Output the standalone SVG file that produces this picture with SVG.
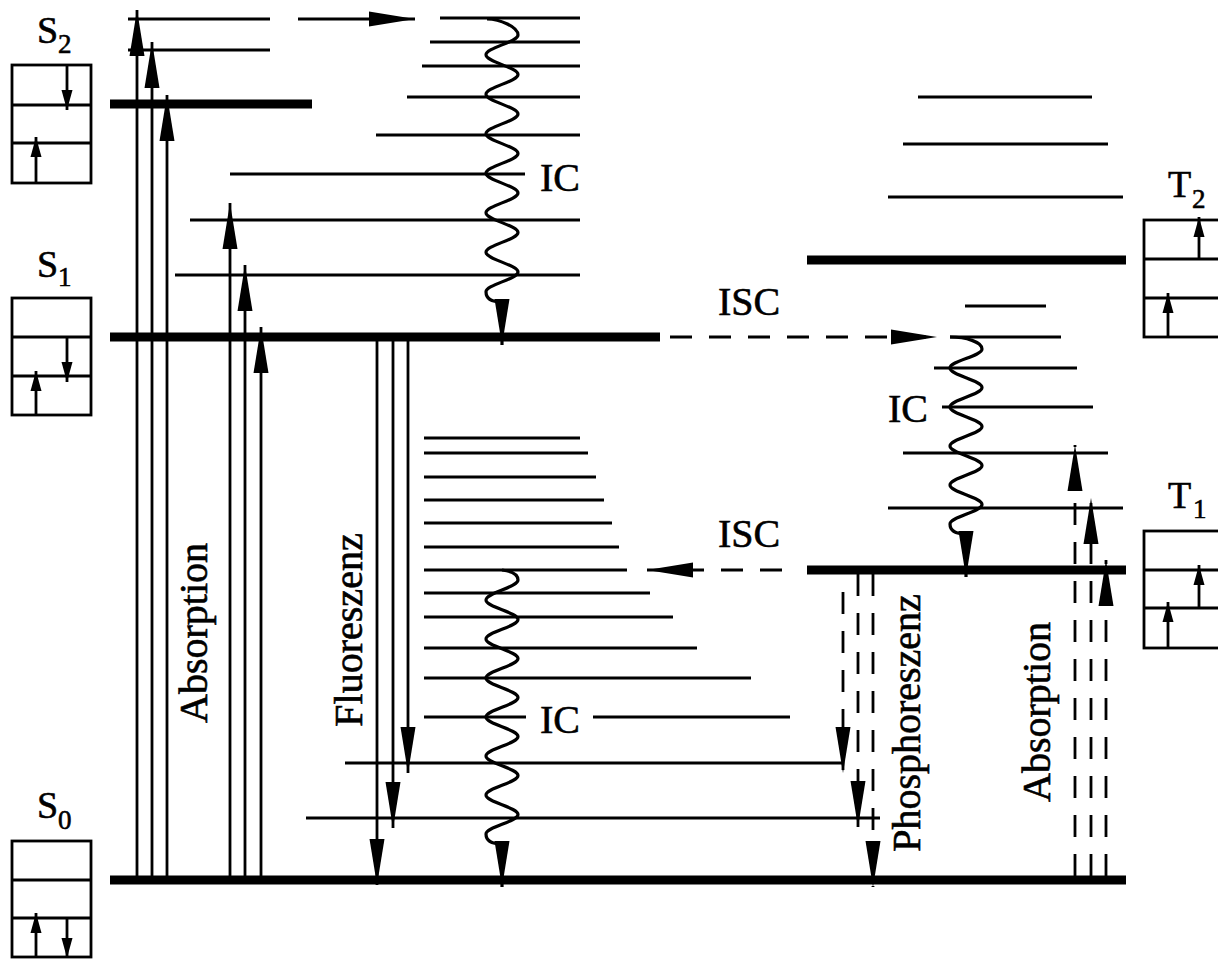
<svg xmlns="http://www.w3.org/2000/svg" width="1218" height="959" viewBox="0 0 1218 959">
<defs>
<marker id="ah" markerUnits="userSpaceOnUse" markerWidth="48" markerHeight="16" refX="46" refY="7.5" orient="auto" overflow="visible"><path d="M0,0 L46,7.5 L0,15 z" fill="#000"/></marker>
<marker id="sah" markerUnits="userSpaceOnUse" markerWidth="22" markerHeight="12" refX="20" refY="5.5" orient="auto" overflow="visible"><path d="M0,0 L20,5.5 L0,11 z" fill="#000"/></marker>
</defs>
<style>
.lv{stroke:#000;stroke-width:2.8;fill:none}
.thick{stroke:#000;stroke-width:9;fill:none}
.ar{stroke:#000;stroke-width:2.8;fill:none;marker-end:url(#ah)}
.dash{stroke-dasharray:22 17}
.wave{stroke:#000;stroke-width:3.2;fill:none;marker-end:url(#ah)}
.box{fill:none;stroke:#000;stroke-width:2.8}
.sar{stroke:#000;stroke-width:2.8;fill:none;marker-end:url(#sah)}
text{font-family:"Liberation Serif","Times New Roman",serif;fill:#000;stroke:#000;stroke-width:0.6}
.lbl{font-size:40px}
.st{font-size:38px}
.sub{font-size:27px}
</style>
<rect width="1218" height="959" fill="#fff"/>

<g id="S2">
<rect class="box" x="12" y="65" width="79" height="118"/>
<line class="lv" x1="12" y1="105" x2="91" y2="105"/>
<line class="lv" x1="12" y1="143" x2="91" y2="143"/>
<line class="sar" x1="67" y1="65" x2="67" y2="110"/>
<line class="sar" x1="36" y1="183" x2="36" y2="137"/>
<text class="st" x="37" y="43">S</text><text class="sub" x="58" y="53">2</text>
<line class="thick" x1="110" y1="104" x2="312" y2="104"/>
<line class="lv" x1="128" y1="19" x2="270" y2="19"/>
<line class="lv" x1="128" y1="50" x2="270" y2="50"/>
<line class="lv" x1="440" y1="18" x2="580" y2="18"/>
<line class="lv" x1="430" y1="42" x2="580" y2="42"/>
<line class="lv" x1="422" y1="66" x2="580" y2="66"/>
<line class="lv" x1="407" y1="97" x2="580" y2="97"/>
<line class="lv" x1="376" y1="135" x2="580" y2="135"/>
<line class="lv" x1="230" y1="174" x2="525" y2="174"/>
</g>

<g id="S1">
<rect class="box" x="12" y="298" width="79" height="117"/>
<line class="lv" x1="12" y1="337" x2="91" y2="337"/>
<line class="lv" x1="12" y1="376" x2="91" y2="376"/>
<line class="sar" x1="67" y1="337" x2="67" y2="382"/>
<line class="sar" x1="36" y1="415" x2="36" y2="371"/>
<text class="st" x="37" y="277">S</text><text class="sub" x="58" y="286">1</text>
<line class="thick" x1="110" y1="337" x2="660" y2="337"/>
<line class="lv" x1="190" y1="220" x2="580" y2="220"/>
<line class="lv" x1="175" y1="275" x2="580" y2="275"/>
</g>

<g id="S0">
<rect class="box" x="12" y="841" width="79" height="116"/>
<line class="lv" x1="12" y1="880" x2="91" y2="880"/>
<line class="lv" x1="12" y1="918" x2="91" y2="918"/>
<line class="sar" x1="36" y1="957" x2="36" y2="913"/>
<line class="sar" x1="67" y1="918" x2="67" y2="958"/>
<text class="st" x="37" y="818">S</text><text class="sub" x="58" y="829">0</text>
<line class="thick" x1="110" y1="880" x2="1126" y2="880"/>
<line class="lv" x1="424" y1="438" x2="580" y2="438"/>
<line class="lv" x1="424" y1="453" x2="588" y2="453"/>
<line class="lv" x1="424" y1="477" x2="596" y2="477"/>
<line class="lv" x1="424" y1="500" x2="604" y2="500"/>
<line class="lv" x1="424" y1="523" x2="612" y2="523"/>
<line class="lv" x1="424" y1="547" x2="619" y2="547"/>
<line class="lv" x1="424" y1="570" x2="627" y2="570"/>
<line class="lv" x1="424" y1="593" x2="650" y2="593"/>
<line class="lv" x1="424" y1="617" x2="673" y2="617"/>
<line class="lv" x1="424" y1="648" x2="697" y2="648"/>
<line class="lv" x1="424" y1="678" x2="751" y2="678"/>
<line class="lv" x1="424" y1="717" x2="526" y2="717"/>
<line class="lv" x1="593" y1="717" x2="790" y2="717"/>
<line class="lv" x1="345" y1="763" x2="843" y2="763"/>
<line class="lv" x1="306" y1="818" x2="880" y2="818"/>
</g>

<g id="T2">
<rect class="box" x="1144" y="220" width="79" height="117"/>
<line class="lv" x1="1144" y1="259" x2="1223" y2="259"/>
<line class="lv" x1="1144" y1="298" x2="1223" y2="298"/>
<line class="sar" x1="1199" y1="259" x2="1199" y2="217"/>
<line class="sar" x1="1168" y1="337" x2="1168" y2="293"/>
<text class="st" x="1168" y="197">T</text><text class="sub" x="1192" y="208">2</text>
<line class="thick" x1="807" y1="260" x2="1126" y2="260"/>
<line class="lv" x1="918" y1="97" x2="1092" y2="97"/>
<line class="lv" x1="903" y1="144" x2="1108" y2="144"/>
<line class="lv" x1="888" y1="197" x2="1123" y2="197"/>
</g>

<g id="T1">
<rect class="box" x="1144" y="531" width="79" height="117"/>
<line class="lv" x1="1144" y1="570" x2="1223" y2="570"/>
<line class="lv" x1="1144" y1="608" x2="1223" y2="608"/>
<line class="sar" x1="1199" y1="608" x2="1199" y2="565"/>
<line class="sar" x1="1168" y1="648" x2="1168" y2="602"/>
<text class="st" x="1168" y="508">T</text><text class="sub" x="1193" y="518">1</text>
<line class="thick" x1="807" y1="570" x2="1126" y2="570"/>
<line class="lv" x1="965" y1="306" x2="1046" y2="306"/>
<line class="lv" x1="950" y1="337" x2="1061" y2="337"/>
<line class="lv" x1="934" y1="368" x2="1077" y2="368"/>
<line class="lv" x1="942" y1="407" x2="1093" y2="407"/>
<line class="lv" x1="903" y1="453" x2="1108" y2="453"/>
<line class="lv" x1="888" y1="508" x2="1123" y2="508"/>
</g>

<g id="connectors">
<line class="ar" x1="298" y1="19" x2="415" y2="19"/>
<line class="ar" x1="137" y1="880" x2="137" y2="10"/>
<line class="ar" x1="152" y1="880" x2="152" y2="42"/>
<line class="ar" x1="167" y1="880" x2="167" y2="95"/>
<line class="ar" x1="230" y1="880" x2="230" y2="203"/>
<line class="ar" x1="245" y1="880" x2="245" y2="265"/>
<line class="ar" x1="261" y1="880" x2="261" y2="327"/>
<line class="ar" x1="377" y1="337" x2="377" y2="885"/>
<line class="ar" x1="393" y1="337" x2="393" y2="828"/>
<line class="ar" x1="408" y1="337" x2="408" y2="773"/>
<line class="ar dash" x1="670" y1="337" x2="937" y2="337"/>
<line class="ar dash" x1="782" y1="570" x2="647" y2="570"/>
<line class="ar dash" x1="843" y1="592" x2="843" y2="773"/>
<line class="ar dash" x1="858" y1="574" x2="858" y2="827"/>
<line class="ar dash" x1="873" y1="574" x2="873" y2="887"/>
<line class="ar dash" x1="1075" y1="876" x2="1075" y2="445"/>
<line class="ar dash" x1="1091" y1="876" x2="1091" y2="498"/>
<line class="ar dash" x1="1106" y1="876" x2="1106" y2="560"/>
<path class="wave" d="M487,19 C500,19 518,27 518,35 C518,42.2 486,47.55 486,54.75 S518,67.3 518,74.5 S486,87.05 486,94.25 S518,106.8 518,114 S486,126.55 486,133.75 S518,146.3 518,153.5 S486,166.05 486,173.25 S518,185.8 518,193 S486,205.55 486,212.75 S518,225.3 518,232.5 S486,245.05 486,252.25 S518,264.8 518,272 S486,284.55 486,291.75 C486,298 491,302 502,302 L502,345"/>
<path class="wave" d="M502,570 C510,571 518,574 518,580 C518,587.2 486,592.8 486,600 S518,612.3 518,619.5 S486,631.8 486,639 S518,651.3 518,658.5 S486,670.8 486,678 S518,690.3 518,697.5 S486,709.8 486,717 S518,729.3 518,736.5 S486,748.8 486,756 S518,768.3 518,775.5 S486,787.8 486,795 S518,807.3 518,814.5 S486,826.8 486,834 C486,840 491,844 502,844 L502,887"/>
<path class="wave" d="M950,337 C966,337 982,342 982,349 C982,356.2 950,360.8 950,368 S982,380.3 982,387.5 S950,399.8 950,407 S982,419.3 982,426.5 S950,438.8 950,446 S982,458.3 982,465.5 S950,477.8 950,485 S982,497.3 982,504.5 S950,516.8 950,524 C950,530 955,534 966,534 L966,577"/>
</g>

<g id="labels">
<text class="lbl" x="540" y="191">IC</text>
<text class="lbl" x="540" y="733">IC</text>
<text class="lbl" x="888" y="422">IC</text>
<text class="lbl" x="718" y="315">ISC</text>
<text class="lbl" x="718" y="547">ISC</text>
<text class="lbl" text-anchor="middle" transform="translate(207,633) rotate(-90)">Absorption</text>
<text class="lbl" text-anchor="middle" transform="translate(362,630) rotate(-90)">Fluoreszenz</text>
<text class="lbl" text-anchor="middle" transform="translate(920,723) rotate(-90)">Phosphoreszenz</text>
<text class="lbl" text-anchor="middle" transform="translate(1050,712) rotate(-90)">Absorption</text>
</g>
</svg>
